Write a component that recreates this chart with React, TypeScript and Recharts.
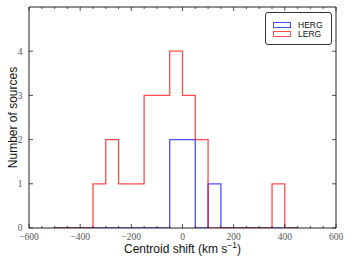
import React from 'react';
import { ComposedChart, Line, XAxis, YAxis, Legend } from 'recharts';

// Histogram bin edges (km/s) and counts per bin [edge_i, edge_i+1)
const binEdges = [-500, -450, -400, -350, -300, -250, -200, -150, -100, -50, 0, 50, 100, 150, 200, 250, 300, 350, 400, 450];
const lergCounts = [0, 0, 0, 1, 2, 1, 1, 3, 3, 4, 3, 2, 0, 0, 0, 0, 0, 1, 0];
const hergCounts = [0, 0, 0, 0, 0, 0, 0, 0, 0, 2, 2, 0, 1, 0, 0, 0, 0, 0, 0];

const xTicks = [-600, -550, -500, -450, -400, -350, -300, -250, -200, -150, -100, -50, 0, 50, 100, 150, 200, 250, 300, 350, 400, 450, 500, 550, 600];
const xLabeled = [-600, -400, -200, 0, 200, 400, 600];
const yTicks = [0, 1, 2, 3, 4];
const yLabeled = [0, 1, 2, 3, 4];

const seriesNames = ['HERG', 'LERG'];
const seriesColors = ['#0000ff', '#ff0000'];

const data = binEdges.map((x, i) => ({
  x,
  lerg: i < lergCounts.length ? lergCounts[i] : 0,
  herg: i < hergCounts.length ? hergCounts[i] : 0,
}));

const fmt = (v: number) => (v < 0 ? '\u2212' + Math.abs(v) : String(v));
const tickFont = { fontFamily: '"Liberation Serif", serif', fontSize: 9.5, fill: '#555' };
const TICK = '#222';

const BottomTick = (p: any) => {
  const major = xLabeled.includes(p.payload.value);
  return (
    <g>
      <line x1={p.x} x2={p.x} y1={p.y} y2={p.y - (major ? 4 : 2)} stroke={TICK} strokeWidth={0.8} />
      {major && (
        <text x={p.x} y={p.y + 11.5} textAnchor="middle" {...tickFont}>
          {fmt(p.payload.value)}
        </text>
      )}
    </g>
  );
};

const TopTick = (p: any) => {
  const major = xLabeled.includes(p.payload.value);
  return <line x1={p.x} x2={p.x} y1={p.y} y2={p.y + (major ? 4 : 2)} stroke={TICK} strokeWidth={0.8} />;
};

const LeftTick = (p: any) => (
  <g>
    <line x1={p.x} x2={p.x + 4} y1={p.y} y2={p.y} stroke={TICK} strokeWidth={0.8} />
    {yLabeled.includes(p.payload.value) && (
      <text x={p.x - 6.5} y={p.y + 3.3} textAnchor="end" {...tickFont}>
        {fmt(p.payload.value)}
      </text>
    )}
  </g>
);

const RightTick = (p: any) => <line x1={p.x} x2={p.x - 4} y1={p.y} y2={p.y} stroke={TICK} strokeWidth={0.8} />;

const renderLegend = () => (
  <div
    style={{
      position: 'relative',
      width: 67,
      height: 33,
      boxSizing: 'border-box',
      border: '1px solid #333',
      borderRadius: 3,
      background: '#fff',
      fontFamily: '"Liberation Sans", Arial, sans-serif',
      fontSize: 8.5,
      color: '#111',
    }}
  >
    {seriesNames.map((name, i) => (
      <React.Fragment key={name}>
        <div
          style={{
            position: 'absolute',
            left: 7,
            top: 8.5 + i * 9.5,
            width: 18,
            height: 6,
            boxSizing: 'border-box',
            border: `1.2px solid ${seriesColors[i]}`,
            opacity: 0.7,
          }}
        />
        <div style={{ position: 'absolute', left: 32, top: 6.5 + i * 9.5, lineHeight: '10px' }}>{name}</div>
      </React.Fragment>
    ))}
  </div>
);

export default function App() {
  return (
    <div style={{ position: 'absolute', left: 0, top: 0, width: 352, height: 264, background: '#fff' }}>
      <ComposedChart width={352} height={264} data={data} margin={{ top: 0, right: 0, bottom: 0, left: 0 }}>
        <XAxis
          dataKey="x"
          type="number"
          domain={[-600, 600]}
          ticks={xTicks}
          interval={0}
          height={36}
          tickSize={0}
          tickMargin={0}
          tickLine={false}
          axisLine={{ stroke: '#222', strokeWidth: 1 }}
          tick={<BottomTick />}
          allowDataOverflow
          label={{
            content: () => (
              <text x={182.5} y={252.5} textAnchor="middle" fontFamily='"Liberation Sans", Arial, sans-serif' fontSize={12} fill="#111">
                <tspan>Centroid shift (km s</tspan>
                <tspan dy={-4.5} fontSize={8.5}>{'\u22121'}</tspan>
                <tspan dy={4.5}>)</tspan>
              </text>
            ),
          }}
        />
        <XAxis
          xAxisId="top"
          orientation="top"
          dataKey="x"
          type="number"
          domain={[-600, 600]}
          ticks={xTicks}
          interval={0}
          height={7}
          tickSize={0}
          tickMargin={0}
          tickLine={false}
          axisLine={{ stroke: '#222', strokeWidth: 1 }}
          tick={<TopTick />}
          allowDataOverflow
        />
        <YAxis
          type="number"
          domain={[0, 5]}
          ticks={yTicks}
          interval={0}
          width={29}
          tickSize={0}
          tickMargin={0}
          tickLine={false}
          axisLine={{ stroke: '#222', strokeWidth: 1 }}
          tick={<LeftTick />}
          allowDataOverflow
          label={{
            content: () => (
              <text
                x={17}
                y={117.5}
                transform="rotate(-90 17 117.5)"
                textAnchor="middle"
                fontFamily='"Liberation Sans", Arial, sans-serif'
                fontSize={12}
                fill="#111"
              >
                Number of sources
              </text>
            ),
          }}
        />
        <YAxis
          yAxisId="right"
          orientation="right"
          type="number"
          domain={[0, 5]}
          ticks={yTicks}
          interval={0}
          width={16}
          tickSize={0}
          tickMargin={0}
          tickLine={false}
          axisLine={{ stroke: '#222', strokeWidth: 1 }}
          tick={<RightTick />}
          allowDataOverflow
        />
        <Legend
          layout="vertical"
          align="center"
          verticalAlign="middle"
          content={renderLegend}
          wrapperStyle={{ left: 265, top: 12, width: 67, height: 33 }}
        />
        <Line
          dataKey="herg"
          name="HERG"
          type="stepAfter"
          stroke={seriesColors[0]}
          strokeOpacity={0.7}
          strokeWidth={1.3}
          dot={false}
          activeDot={false}
          isAnimationActive={false}
        />
        <Line
          dataKey="lerg"
          name="LERG"
          type="stepAfter"
          stroke={seriesColors[1]}
          strokeOpacity={0.7}
          strokeWidth={1.3}
          dot={false}
          activeDot={false}
          isAnimationActive={false}
        />
      </ComposedChart>
    </div>
  );
}
